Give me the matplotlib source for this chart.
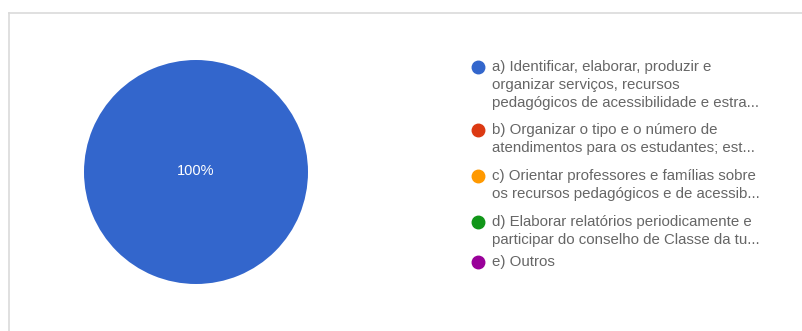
import matplotlib.pyplot as plt
from matplotlib.lines import Line2D

# dane wykresu
categories = [
    "a) Identificar, elaborar, produzir e\norganizar serviços, recursos\npedagógicos de acessibilidade e estra...",
    "b) Organizar o tipo e o número de\natendimentos para os estudantes; est...",
    "c) Orientar professores e famílias sobre\nos recursos pedagógicos e de acessib...",
    "d) Elaborar relatórios periodicamente e\nparticipar do conselho de Classe da tu...",
    "e) Outros",
]
values = [100, 0, 0, 0, 0]
colors = ["#3366cc", "#dc3912", "#ff9900", "#109618", "#990099"]

W, H = 802, 331
fig = plt.figure(figsize=(W / 100, H / 100), dpi=100)
plt.rcParams['font.family'] = ['Liberation Sans', 'DejaVu Sans']

# ramka
fig.add_artist(Line2D([9 / W, 9 / W], [0, 1 - 13 / H], color="#dadada", lw=1.2))
fig.add_artist(Line2D([9 / W, 1], [1 - 13 / H, 1 - 13 / H], color="#dadada", lw=1.2))

# wykres kołowy
ax = fig.add_axes([84 / W, 1 - 284 / H, 224 / W, 224 / H])
wedges, _ = ax.pie(values, colors=colors, startangle=90, counterclock=False,
                   wedgeprops=dict(linewidth=0))
ax.set_xlim(-1, 1)
ax.set_ylim(-1, 1)
ax.set_aspect('auto')
total = sum(values)
for v in values:
    if v == total:
        ax.text(0, 0.01, f"{v / total * 100:.0f}%", color="white", fontsize=10.5,
                ha="center", va="center")

# legenda
row_y = [67, 130, 176, 222, 262]
for label, color, y in zip(categories, colors, row_y):
    fig.add_artist(Line2D([478 / W], [1 - y / H], marker="o", markersize=9,
                          color=color, linestyle="none"))
    for i, line in enumerate(label.split("\n")):
        fig.text(492 / W, 1 - (y + 18 * i) / H, line, fontsize=10.8,
                 color="#666666", va="center", ha="left")

fig.savefig("out.png", dpi=100, facecolor="white")
